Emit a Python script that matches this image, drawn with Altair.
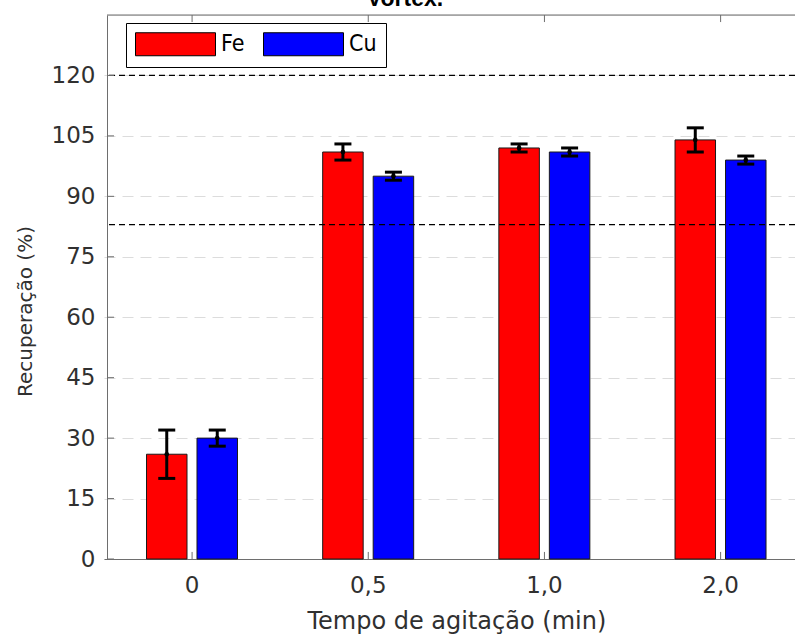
import altair as alt
import pandas as pd

categories = ["0", "0,5", "1,0", "2,0"]
series = ["Fe", "Cu"]
fe_values = [26, 101, 102, 104]
fe_errors = [6, 2, 1, 3]
cu_values = [30, 95, 101, 99]
cu_errors = [2, 1, 1, 1]
y_ticks = [0, 15, 30, 45, 60, 75, 90, 105, 120]
ref_lines = [120, 83]
colors = ["#ff0000", "#0000ff"]
title_text = ["Vortex."]

rows = []
for i, c in enumerate(categories):
    for s, vals, errs in (("Fe", fe_values, fe_errors), ("Cu", cu_values, cu_errors)):
        rows.append(dict(cat=c, serie=s, val=vals[i], lo=vals[i] - errs[i], hi=vals[i] + errs[i]))
df = pd.DataFrame(rows)

GRAY = "#6e6e6e"
FONT = "DejaVu Sans"
Y_MAX = 135

x_scale = alt.Scale(domain=categories, range=[-3, 701.7], paddingInner=0, paddingOuter=0)
x_axis = alt.Axis(title="Tempo de agitação (min)", ticks=False, domain=True, domainColor=GRAY,
                  labelFont=FONT, labelFontSize=23, labelColor="#303030", labelPadding=15,
                  labelAngle=0, titleFont=FONT, titleFontSize=24, titleFontWeight="normal",
                  titleColor="#303030", titlePadding=12, grid=False)
y_scale = alt.Scale(domain=[0, Y_MAX], nice=False, zero=True)
y_axis = alt.Axis(title="Recuperação (%)", values=y_ticks, ticks=False, domain=True, domainColor=GRAY,
                  labelFont=FONT, labelFontSize=23, labelColor="#303030", labelPadding=12,
                  titleFont=FONT, titleFontSize=20, titleFontWeight="normal", titleColor="#303030",
                  titlePadding=16, titleY=296, grid=True, gridColor="#dcdcdc", gridDash=[11, 7],
                  gridWidth=1)

# wide rectangular legend swatch (80 x 23 px): size 529 -> unit = 11.5 px
SWATCH = "M-1,-1L5.957,-1L5.957,1L-1,1Z"


def X():
    return alt.X("cat:N", sort=categories, scale=x_scale, axis=x_axis)


def XO():
    return alt.XOffset("serie:N", sort=series,
                       scale=alt.Scale(domain=series, range=[42.5, 133.5], paddingInner=0.198, paddingOuter=0))


def Y(field):
    return alt.Y(field, scale=y_scale, axis=y_axis)


base = alt.Chart(df)

bars = base.mark_bar(stroke="#1a1a1a", strokeWidth=1).encode(
    x=X(), xOffset=XO(), y=Y("val:Q"),
    color=alt.Color("serie:N", sort=series, scale=alt.Scale(domain=series, range=colors),
                    legend=alt.Legend(title=None, orient="none", legendX=19, legendY=8,
                                      direction="horizontal", symbolType=SWATCH,
                                      symbolSize=529, symbolStrokeColor="black", symbolStrokeWidth=1,
                                      symbolOpacity=1, labelFont="DejaVu Sans Condensed",
                                      labelFontSize=23, labelColor="black", labelOffset=62,
                                      columnPadding=16, padding=9, strokeColor="black",
                                      fillColor="white")),
)

err = base.mark_rule(color="black", strokeWidth=3).encode(
    x=X(), xOffset=XO(), y=Y("lo:Q"), y2="hi:Q")
cap_lo = base.mark_tick(color="black", thickness=3, size=17, orient="horizontal", opacity=1).encode(
    x=X(), xOffset=XO(), y=Y("lo:Q"))
cap_hi = base.mark_tick(color="black", thickness=3, size=17, orient="horizontal", opacity=1).encode(
    x=X(), xOffset=XO(), y=Y("hi:Q"))
dots = base.mark_point(filled=True, size=22, color="black", opacity=1).encode(
    x=X(), xOffset=XO(), y=Y("val:Q"))

refs = alt.Chart(pd.DataFrame({"v": ref_lines})).mark_rule(
    color="black", strokeDash=[6, 4], strokeWidth=1.3).encode(y=Y("v:Q"))

top_border = alt.Chart(pd.DataFrame({"v": [Y_MAX]})).mark_rule(color=GRAY, strokeWidth=1).encode(y=Y("v:Q"))

cat_df = pd.DataFrame({"cat": categories})
bottom_ticks = alt.Chart(cat_df).mark_rule(color=GRAY, strokeWidth=1).encode(
    x=X(), y=alt.datum(0), y2=alt.datum(1.75))
top_ticks = alt.Chart(cat_df).mark_rule(color=GRAY, strokeWidth=1).encode(
    x=X(), y=alt.datum(Y_MAX), y2=alt.datum(Y_MAX - 1.75))
left_ticks = alt.Chart(pd.DataFrame({"t": y_ticks})).mark_rule(color=GRAY, strokeWidth=1).encode(
    y=Y("t:Q"), x=alt.value(0), x2=alt.value(7))

title = alt.Chart(pd.DataFrame({"t": title_text})).mark_text(
    font="Liberation Sans", fontSize=23, fontWeight="bold", color="black",
    align="center", baseline="alphabetic").encode(
    text="t:N", x=alt.value(298), y=alt.value(-9))

chart = alt.layer(
    bars, err, cap_lo, cap_hi, dots, refs, top_border, bottom_ticks, top_ticks, left_ticks, title
).properties(
    width=688, height=544,
    autosize=alt.AutoSizeParams(type="none"),
    padding={"left": 107, "top": 15, "right": 0, "bottom": 77},
).configure_view(stroke=None).configure(background="white")

chart.save("out.html", embed_options={"renderer": "svg", "actions": False})
